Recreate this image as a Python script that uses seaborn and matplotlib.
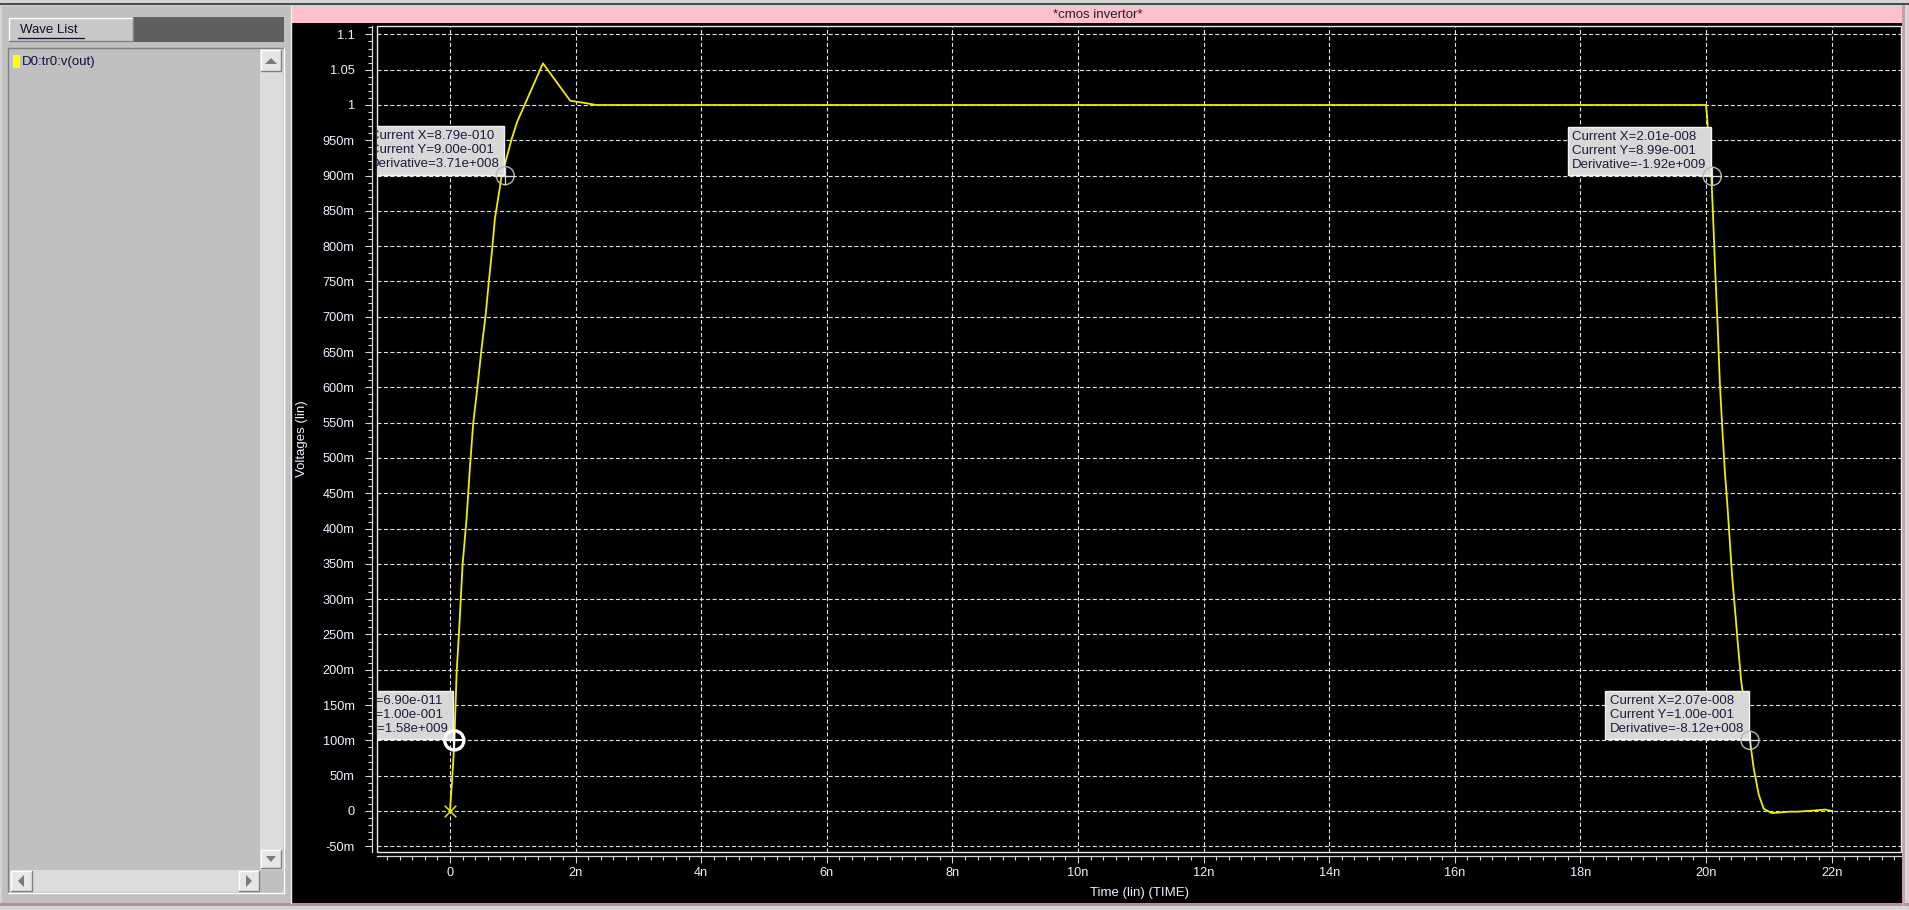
import numpy as np
import pandas as pd
import seaborn as sns
import matplotlib.pyplot as plt
from matplotlib.patches import Rectangle, Polygon
from matplotlib.ticker import MultipleLocator, FuncFormatter

# transient output of the inverter, time in ns, volts
time_ns = [0.0, 0.037, 0.069, 0.106, 0.148, 0.20, 0.265, 0.317, 0.37, 0.434,
           0.503, 0.566, 0.619, 0.672, 0.714, 0.82, 0.979, 1.069, 1.48, 1.915,
           2.14, 2.33, 10.0, 20.0, 20.016, 20.085, 20.11, 20.145, 20.185, 20.22,
           20.26, 20.30, 20.34, 20.375, 20.415, 20.46, 20.51, 20.56, 20.63, 20.70,
           20.76, 20.84, 20.92, 21.05, 21.32, 21.45, 21.77, 21.9, 22.0]
v_out = [0.0, 0.048, 0.097, 0.196, 0.26, 0.348, 0.415, 0.486, 0.549, 0.598,
         0.655, 0.701, 0.750, 0.796, 0.838, 0.898, 0.951, 0.976, 1.059, 1.006,
         1.003, 1.0, 1.0, 1.0, 0.985, 0.898, 0.848, 0.768, 0.688, 0.607,
         0.541, 0.481, 0.434, 0.387, 0.334, 0.287, 0.234, 0.184, 0.140, 0.10,
         0.06, 0.023, 0.003, -0.003, -0.001, -0.001, 0.001, 0.002, 0.0]

# cursors
cursor_t = [0.069, 0.879, 20.1, 20.7]
cursor_v = [0.100, 0.900, 0.899, 0.100]
cursor_x = ['6.90e-011', '8.79e-010', '2.01e-008', '2.07e-008']
cursor_y = ['1.00e-001', '9.00e-001', '8.99e-001', '1.00e-001']
cursor_d = ['1.58e+009', '3.71e+008', '-1.92e+009', '-8.12e+008']
cursor_active = [True, False, False, False]

W, H = 1909, 910

sns.set_theme(style='ticks', rc={'axes.facecolor': 'black', 'figure.facecolor': '#c8c8c8'})
plt.rcParams['font.family'] = ['Liberation Sans', 'DejaVu Sans']

fig = plt.figure(figsize=(W / 100, H / 100), dpi=100)

# ---- window chrome, drawn in pixel coords ----
bg = fig.add_axes([0, 0, 1, 1], zorder=-5)
bg.set_xlim(0, W)
bg.set_ylim(H, 0)
bg.axis('off')


def rect(x0, y0, x1, y1, fc, ec='none', lw=0):
    bg.add_patch(Rectangle((x0, y0), x1 - x0, y1 - y0, fc=fc, ec=ec, lw=lw))


def bevel(x0, y0, x1, y1, fc, light='#ffffff', dark='#808080'):
    rect(x0, y0, x1, y1, fc)
    bg.plot([x0, x1], [y0, y0], color=light, lw=1)
    bg.plot([x0, x0], [y0, y1], color=light, lw=1)
    bg.plot([x0, x1], [y1, y1], color=dark, lw=1)
    bg.plot([x1, x1], [y0, y1], color=dark, lw=1)


def tri(pts, c='#7a7a7a'):
    bg.add_patch(Polygon(pts, closed=True, fc=c, ec='none'))


rect(0, 0, W, H, '#d4d4d4')
rect(0, 3, W, 5, '#4a4a4a')
rect(0, 903, W, 906, '#b89098')
rect(1902, 5, 1905, 906, '#c8a0a8')
# left panel
rect(2, 6, 292, 903, '#c0c0c0')
bg.plot([291, 291], [6, 903], color='#f0f0f0', lw=1)
# wave list header
bevel(9, 18, 133, 41, '#c8c8c8')
rect(133, 17, 284, 42, '#5f5f5f')
bg.text(20, 30, 'Wave List', fontsize=9.5, color='#101030', va='center', ha='left')
bg.plot([18, 84], [38, 38], color='#101030', lw=0.9)
# list box
bevel(8, 48, 284, 893, '#c0c0c0', light='#808080', dark='#ffffff')
rect(260, 49, 283, 870, '#dcdcdc')
rect(10, 870, 260, 892, '#dcdcdc')
rect(260, 870, 283, 892, '#c0c0c0')
bevel(261, 50, 281, 71, '#e6e6e6')
tri([(265, 64), (277, 64), (271, 58)])
bevel(261, 850, 281, 868, '#e6e6e6')
tri([(266, 856), (276, 856), (271, 862)])
bevel(11, 871, 32, 891, '#e6e6e6')
tri([(18, 881), (24, 875), (24, 887)])
bevel(239, 871, 259, 891, '#e6e6e6')
tri([(252, 881), (246, 875), (246, 887)])
rect(13, 55, 20, 68, '#ffff00')
bg.text(22, 62, 'D0:tr0:v(out)', fontsize=9.5, color='#101040', va='center', ha='left')
# plot window
rect(292, 23, 1902, 903, 'black')
rect(293, 7, 1902, 23, '#ffc0cb')
bg.text(1098, 15.5, '*cmos invertor*', fontsize=9.5, color='#202030', va='center', ha='center')

# ---- waveform axes ----
x0, x1, y0, y1 = 377, 1901, 26, 852
ax = fig.add_axes([x0 / W, 1 - y1 / H, (x1 - x0) / W, (y1 - y0) / H])
ax.set_facecolor('black')

df = pd.DataFrame({'t': time_ns, 'v': v_out})
sns.lineplot(data=df, x='t', y='v', ax=ax, color='#eeee00', linewidth=1.3,
             estimator=None, sort=False, legend=False, zorder=3)

ax.set_xlim(-1.162, 23.105)
ax.set_ylim(-0.0581, 1.1119)

ax.xaxis.set_major_locator(MultipleLocator(2))
ax.xaxis.set_minor_locator(MultipleLocator(0.2))
ax.yaxis.set_major_locator(MultipleLocator(0.05))
ax.yaxis.set_minor_locator(MultipleLocator(0.01))


def fmt_v(v, pos):
    if abs(v) < 1e-9:
        return '0'
    if abs(v) < 0.9999:
        return f'{round(v * 1000):d}m'
    return f'{round(v, 3):g}'


def fmt_t(t, pos):
    if abs(t) < 1e-9:
        return '0'
    return f'{round(t):d}n'


ax.yaxis.set_major_formatter(FuncFormatter(fmt_v))
ax.xaxis.set_major_formatter(FuncFormatter(fmt_t))

ax.grid(which='major', color='#e6e6e6', linestyle=(0, (3.6, 2.2)), linewidth=0.8)
ax.grid(which='minor', visible=False)

for s in ['top', 'right']:
    ax.spines[s].set_visible(False)
ax.spines['left'].set_position(('outward', 3.6))
ax.spines['bottom'].set_position(('outward', 3.0))
for s in ['left', 'bottom']:
    ax.spines[s].set_color('#d8d8d8')
    ax.spines[s].set_linewidth(0.9)
ax.add_patch(Rectangle((0, 0), 1, 1, transform=ax.transAxes, fill=False,
                       ec='#e8e8e8', lw=1.0, clip_on=False, zorder=4))

ax.tick_params(which='major', length=5, width=0.8, color='#d8d8d8',
               labelcolor='#eef2ff', labelsize=9.2, direction='out')
ax.tick_params(which='minor', length=2.6, width=0.8, color='#d8d8d8', direction='out')
ax.tick_params(axis='y', which='major', pad=7.5)
ax.tick_params(axis='x', which='major', pad=2.5)

ax.set_xlabel('Time (lin) (TIME)', fontsize=9.5, color='#eef2ff')
ax.set_ylabel('Voltages (lin)', fontsize=9.5, color='#eef2ff')
ax.xaxis.set_label_coords(0.5, -0.0496)
ax.xaxis.label.set_verticalalignment('center')
ax.yaxis.set_label_coords(-0.049, 0.5)
ax.yaxis.label.set_verticalalignment('center')

# start point marker
ax.scatter([time_ns[0]], [v_out[0]], marker='x', s=70, color='#e6e600', lw=1.1, zorder=5)

# cursor readouts
for t, v, sx, sy, sd in zip(cursor_t, cursor_v, cursor_x, cursor_y, cursor_d):
    txt = f'Current X={sx}\nCurrent Y={sy}\nDerivative={sd}'
    ax.annotate(txt, xy=(t, v), xytext=(-4, 4), textcoords='offset points',
                ha='right', va='bottom', multialignment='left', fontsize=9.5,
                color='#1c1c3c',
                bbox=dict(boxstyle='square,pad=0.35', fc='#d8d8d8', ec='#f4f4f4', lw=1),
                annotation_clip=False, clip_on=True, zorder=6)

cur = pd.DataFrame({'t': cursor_t, 'v': cursor_v, 'active': cursor_active})
act = cur[cur['active']]
ina = cur[~cur['active']]
sns.scatterplot(data=ina, x='t', y='v', ax=ax, marker='o', s=170, facecolors='none',
                edgecolor='#b8b8b8', linewidth=1.0, zorder=7, legend=False)
ax.scatter(ina['t'], ina['v'], marker='+', s=150, color='#e0e0e0', lw=0.9, zorder=7)
sns.scatterplot(data=act, x='t', y='v', ax=ax, marker='o', s=190, facecolors='none',
                edgecolor='white', linewidth=2.4, zorder=8, legend=False)
ax.scatter(act['t'], act['v'], marker='+', s=210, color='white', lw=1.6, zorder=8)

fig.savefig('out.png', dpi=100, facecolor=fig.get_facecolor())
